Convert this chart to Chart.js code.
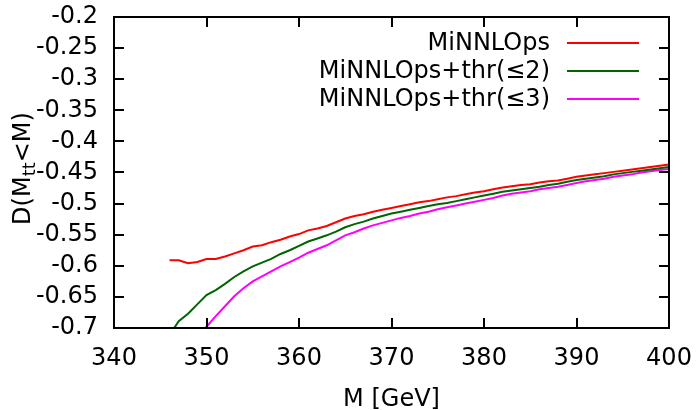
<!DOCTYPE html>
<html>
<head>
<meta charset="utf-8">
<script src="https://cdn.jsdelivr.net/npm/chart.js@4"></script>
<style>
  body { margin: 0; background: #fff; }
  #wrap { width: 699px; height: 410px; }
</style>
</head>
<body>
<div id="wrap"><canvas id="dist_chart"></canvas></div>
<script>
// ! masses on the x axis, one point per GeV
const masses = [
  346, 347, 348, 349, 350, 351, 352, 353, 354, 355,
  356, 357, 358, 359, 360, 361, 362, 363, 364, 365,
  366, 367, 368, 369, 370, 371, 372, 373, 374, 375,
  376, 377, 378, 379, 380, 381, 382, 383, 384, 385,
  386, 387, 388, 389, 390, 391, 392, 393, 394, 395,
  396, 397, 398, 399, 400,
];

// ! the three curves
const minnlo = [
  -0.591, -0.591, -0.596, -0.594, -0.589, -0.589, -0.585, -0.580, -0.575, -0.569,
  -0.567, -0.562, -0.558, -0.553, -0.549, -0.543, -0.540, -0.536, -0.530, -0.524,
  -0.520, -0.517, -0.513, -0.510, -0.507, -0.504, -0.501, -0.498, -0.496, -0.493,
  -0.490, -0.488, -0.485, -0.482, -0.480, -0.477, -0.474, -0.472, -0.470, -0.469,
  -0.466, -0.464, -0.463, -0.460, -0.457, -0.455, -0.453, -0.451, -0.449, -0.447,
  -0.445, -0.443, -0.441, -0.439, -0.437,
];
const thr2 = [
  -0.711, -0.689, -0.677, -0.662, -0.647, -0.639, -0.629, -0.618, -0.609, -0.601,
  -0.595, -0.589, -0.581, -0.575, -0.568, -0.561, -0.556, -0.551, -0.545, -0.538,
  -0.533, -0.529, -0.524, -0.520, -0.516, -0.513, -0.510, -0.507, -0.504, -0.501,
  -0.499, -0.496, -0.493, -0.490, -0.487, -0.484, -0.481, -0.479, -0.477, -0.475,
  -0.473, -0.470, -0.468, -0.465, -0.462, -0.460, -0.458, -0.456, -0.453, -0.451,
  -0.449, -0.447, -0.445, -0.443, -0.441,
];
const thr3 = [
  null, null, null, -0.715, -0.698, -0.681, -0.665, -0.649, -0.636, -0.625,
  -0.617, -0.609, -0.601, -0.594, -0.587, -0.579, -0.573, -0.567, -0.559, -0.551,
  -0.546, -0.540, -0.535, -0.531, -0.527, -0.523, -0.520, -0.516, -0.513, -0.509,
  -0.506, -0.503, -0.500, -0.497, -0.494, -0.491, -0.487, -0.484, -0.482, -0.480,
  -0.477, -0.475, -0.473, -0.470, -0.467, -0.464, -0.462, -0.460, -0.457, -0.455,
  -0.453, -0.450, -0.448, -0.446, -0.4445,
];

const series_labels = ['MiNNLOps', 'MiNNLOps+thr(\u22642)', 'MiNNLOps+thr(\u22643)'];
const series_colors = ['#ff0000', '#006400', '#ff00ff'];
const series_values = [minnlo, thr2, thr3];

const FONT = 'DejaVu Sans';
const FONT_SIZE = 24;

// ! gnuplot-like frame, inside ticks, key and y title
const frame_plugin = {
  id: 'frame',
  afterDatasetsDraw(chart) {
    const ctx = chart.ctx;
    const a = chart.chartArea;
    const xs = chart.scales.x;
    const ys = chart.scales.y;
    const tick = 10;
    ctx.save();
    ctx.strokeStyle = '#000';
    ctx.lineWidth = 2;
    ctx.beginPath();
    xs.ticks.forEach(t => {
      const px = Math.round(xs.getPixelForValue(t.value));
      ctx.moveTo(px, a.bottom); ctx.lineTo(px, a.bottom - tick);
      ctx.moveTo(px, a.top); ctx.lineTo(px, a.top + tick);
    });
    ys.ticks.forEach(t => {
      const py = Math.round(ys.getPixelForValue(t.value));
      ctx.moveTo(a.left, py); ctx.lineTo(a.left + tick, py);
      ctx.moveTo(a.right, py); ctx.lineTo(a.right - tick, py);
    });
    ctx.stroke();
    ctx.strokeRect(a.left, a.top, a.right - a.left, a.bottom - a.top);

    // key
    ctx.font = FONT_SIZE + 'px "' + FONT + '"';
    ctx.fillStyle = '#000';
    ctx.textAlign = 'right';
    ctx.textBaseline = 'middle';
    chart.data.datasets.forEach((ds, i) => {
      const y = a.top + 26 + i * 28;
      ctx.fillText(ds.label, a.right - 119, y + 1);
      ctx.strokeStyle = ds.borderColor;
      ctx.lineWidth = 2;
      ctx.beginPath();
      ctx.moveTo(a.right - 102, y);
      ctx.lineTo(a.right - 30, y);
      ctx.stroke();
    });

    // y title with subscript
    const main = FONT_SIZE + 'px "' + FONT + '"';
    const sub = Math.round(FONT_SIZE * 0.75) + 'px "' + FONT + '"';
    const parts = [['D(M', main, 0], ['tt', sub, 6], ['<M)', main, 0]];
    let total = 0;
    parts.forEach(p => { ctx.font = p[1]; total += ctx.measureText(p[0]).width; });
    ctx.translate(24, (a.top + a.bottom) / 2 - 4);
    ctx.rotate(-Math.PI / 2);
    ctx.textAlign = 'left';
    ctx.fillStyle = '#000';
    let x = -total / 2;
    parts.forEach(p => {
      ctx.font = p[1];
      ctx.fillText(p[0], x, p[2]);
      x += ctx.measureText(p[0]).width;
    });
    ctx.restore();
  },
};

const stats_chart = document.getElementById('dist_chart').getContext('2d');

let my_chart = new Chart(stats_chart, {
  type: 'line',
  data: {
    datasets: series_values.map((vals, i) => ({
      label: series_labels[i],
      data: masses.map((m, j) => ({ x: m, y: vals[j] })),
      borderColor: series_colors[i],
      borderWidth: 2,
      pointRadius: 0,
      tension: 0,
      spanGaps: false,
    })),
  },
  options: {
    responsive: true,
    maintainAspectRatio: false,
    animation: false,
    layout: { padding: { left: 0, right: 30, top: 17, bottom: 0 } },
    plugins: {
      legend: { display: false },
      tooltip: { enabled: false },
    },
    scales: {
      x: {
        type: 'linear',
        min: 340,
        max: 400,
        ticks: {
          stepSize: 10,
          padding: 16,
          color: '#000',
          font: { family: FONT, size: FONT_SIZE },
          maxRotation: 0,
          autoSkip: false,
        },
        grid: { display: false, drawTicks: false },
        border: { display: false },
        title: {
          display: true,
          text: 'M [GeV]',
          color: '#000',
          font: { family: FONT, size: FONT_SIZE },
          padding: { top: 0, bottom: -4 },
        },
        afterFit: (scale) => {
          scale.height = 82;
          scale.paddingLeft = 0;
          scale.paddingRight = 0;
        },
      },
      y: {
        min: -0.7,
        max: -0.2,
        ticks: {
          stepSize: 0.05,
          padding: 16,
          color: '#000',
          font: { family: FONT, size: FONT_SIZE },
          autoSkip: false,
          callback: (v) => String(+v.toFixed(2)),
        },
        grid: { display: false, drawTicks: false },
        border: { display: false },
        afterFit: (scale) => {
          scale.width = 114;
          scale.paddingTop = 0;
          scale.paddingBottom = 0;
        },
      },
    },
  },
  plugins: [frame_plugin],
});
</script>
</body>
</html>
